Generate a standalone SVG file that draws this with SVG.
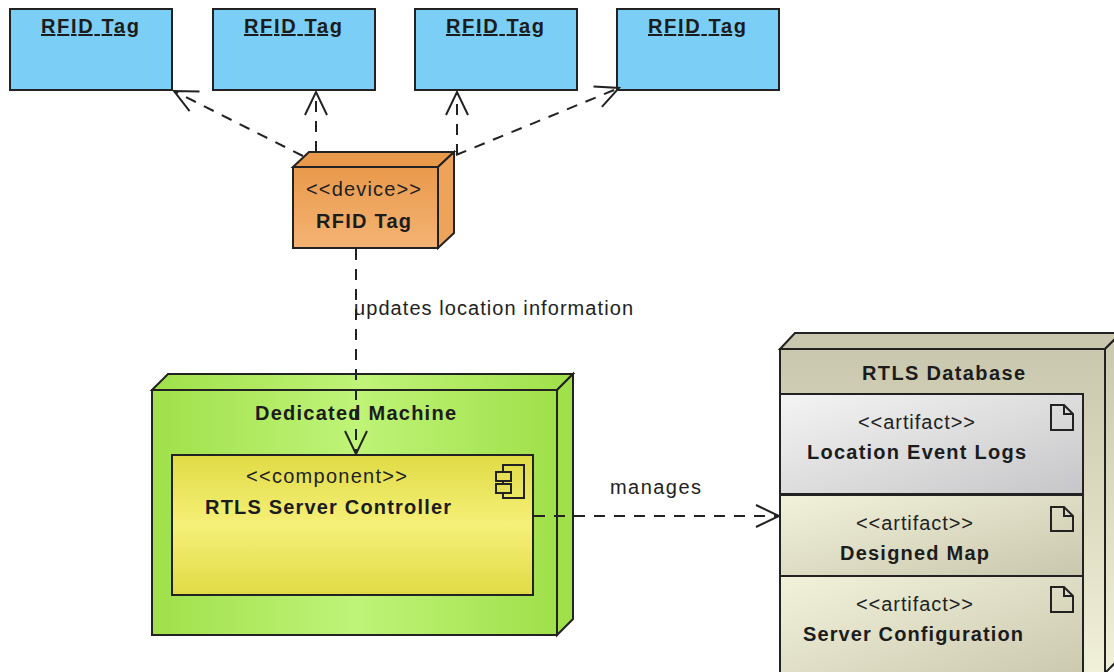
<svg xmlns="http://www.w3.org/2000/svg" width="1114" height="672" viewBox="0 0 1114 672">
<style>
text{font-family:"Liberation Sans",Arial,sans-serif;fill:#222;font-size:20px}
.b{font-weight:bold;fill:#1c1c1c}
.u{text-decoration:underline}
.s{stroke:#222;stroke-width:2;stroke-linejoin:miter}
.i{fill:none;stroke:#222;stroke-width:2}
.c{fill:none;stroke:#222;stroke-width:2;stroke-dasharray:11 9;marker-end:url(#open)}
.tag{fill:#7bcef5}
</style>
<defs>
<marker id="open" markerUnits="userSpaceOnUse" markerWidth="30" markerHeight="30" refX="25" refY="13" orient="auto" overflow="visible">
<path d="M2 2 L25 13 L2 24" fill="none" stroke="#222" stroke-width="2"/>
</marker>
<linearGradient id="dev" x1="0" y1="0" x2="0" y2="1"><stop offset="0" stop-color="#e99a4c"/><stop offset="1" stop-color="#f4b374"/></linearGradient>
<linearGradient id="mach" x1="0" y1="0" x2="1" y2="0"><stop offset="0" stop-color="#a0e04a"/><stop offset=".5" stop-color="#bff478"/><stop offset="1" stop-color="#a0e04a"/></linearGradient>
<linearGradient id="comp" x1="0" y1="0" x2="0" y2="1"><stop offset="0" stop-color="#e0db44"/><stop offset=".5" stop-color="#f5f078"/><stop offset="1" stop-color="#e0db44"/></linearGradient>
<linearGradient id="db" x1="0" y1="0" x2="0" y2="1"><stop offset="0" stop-color="#c9c8ae"/><stop offset="1" stop-color="#f1f0d8"/></linearGradient>
<linearGradient id="art1" x1="0" y1="0" x2="1" y2="1"><stop offset="0" stop-color="#f4f4f4"/><stop offset="1" stop-color="#c6c6c8"/></linearGradient>
<linearGradient id="art2" x1="0" y1="0" x2="1" y2="1"><stop offset="0" stop-color="#f2f1da"/><stop offset="1" stop-color="#c9c8ae"/></linearGradient>
</defs>
<rect width="1114" height="672" fill="#fff"/>
<g id="tag1"><rect class="s tag" x="10" y="9" width="162" height="81"/><text class="b u" x="41" y="33" textLength="98">RFID Tag</text></g>
<g id="tag2"><rect class="s tag" x="213" y="9" width="162" height="81"/><text class="b u" x="244" y="33" textLength="98">RFID Tag</text></g>
<g id="tag3"><rect class="s tag" x="415" y="9" width="162" height="81"/><text class="b u" x="446" y="33" textLength="98">RFID Tag</text></g>
<g id="tag4"><rect class="s tag" x="617" y="9" width="162" height="81"/><text class="b u" x="648" y="33" textLength="98">RFID Tag</text></g>
<g id="device">
<path class="s" d="M293 167 L309 152 H454 L438 167 Z" fill="#e89a4a"/>
<path class="s" d="M438 167 L454 152 V233 L438 248 Z" fill="#eea35a"/>
<rect class="s" x="293" y="167" width="145" height="81" fill="url(#dev)"/>
<text x="306" y="196" textLength="115">&lt;&lt;device&gt;&gt;</text>
<text class="b" x="316" y="228" textLength="95">RFID Tag</text>
</g>
<g id="machine">
<path class="s" d="M152 390 L168 374 H573 L557 390 Z" fill="url(#mach)"/>
<path class="s" d="M557 390 L573 374 V619 L557 635 Z" fill="#a0e04a"/>
<rect class="s" x="152" y="390" width="405" height="245" fill="url(#mach)"/>
<text class="b" x="255" y="420" textLength="201">Dedicated Machine</text>
</g>
<g id="database">
<path class="s" d="M780 349 L795 333 H1121 L1105 349 Z" fill="#c9c8ae"/>
<path class="s" d="M1105 349 L1121 333 V657 L1105 673 Z" fill="url(#db)"/>
<rect class="s" x="780" y="349" width="325" height="324" fill="url(#db)"/>
<text class="b" x="862" y="380" textLength="163">RTLS Database</text>
</g>
<g id="artifact1">
<rect x="780" y="394" width="303" height="100" fill="url(#art1)" stroke="#222" stroke-width="2"/>
<path class="i" d="M1051 405 H1064 L1073 414 V430 H1051 Z M1064 405 V414 H1073"/>
<text x="858" y="429" textLength="117">&lt;&lt;artifact&gt;&gt;</text>
<text class="b" x="807" y="459" textLength="219">Location Event Logs</text>
</g>
<g id="artifact2">
<rect x="780" y="495" width="303" height="81" fill="url(#art2)" stroke="#222" stroke-width="2"/>
<path class="i" d="M1051 507 H1064 L1073 516 V531 H1051 Z M1064 507 V516 H1073"/>
<text x="856" y="530" textLength="117">&lt;&lt;artifact&gt;&gt;</text>
<text class="b" x="840" y="560" textLength="149">Designed Map</text>
</g>
<g id="artifact3">
<rect x="780" y="576" width="303" height="110" fill="url(#art2)" stroke="#222" stroke-width="2"/>
<path class="i" d="M1051 587 H1064 L1073 596 V612 H1051 Z M1064 587 V596 H1073"/>
<text x="856" y="611" textLength="117">&lt;&lt;artifact&gt;&gt;</text>
<text class="b" x="803" y="641" textLength="220">Server Configuration</text>
</g>
<g id="component">
<rect class="s" x="172" y="455" width="361" height="140" fill="url(#comp)"/>
<rect class="i" x="503" y="465" width="21" height="33"/>
<rect x="496" y="472" width="15" height="9" fill="#e6e257" stroke="#222" stroke-width="2"/>
<rect x="496" y="484" width="15" height="9" fill="#e6e257" stroke="#222" stroke-width="2"/>
<text x="246" y="483" textLength="161">&lt;&lt;component&gt;&gt;</text>
<text class="b" x="205" y="514" textLength="246">RTLS Server Controller</text>
</g>
<g id="connectors">
<path class="c" d="M303 156 L174 91"/>
<path class="c" d="M316 152 V92"/>
<path class="c" d="M457 155 V92"/>
<path class="c" d="M456 155 L619 88"/>
<path class="c" d="M356 249 V454"/>
<path class="c" d="M534 516 H779"/>
<text x="354" y="315" textLength="279">updates location information</text>
<text x="610" y="494" textLength="91">manages</text>
</g>
</svg>
